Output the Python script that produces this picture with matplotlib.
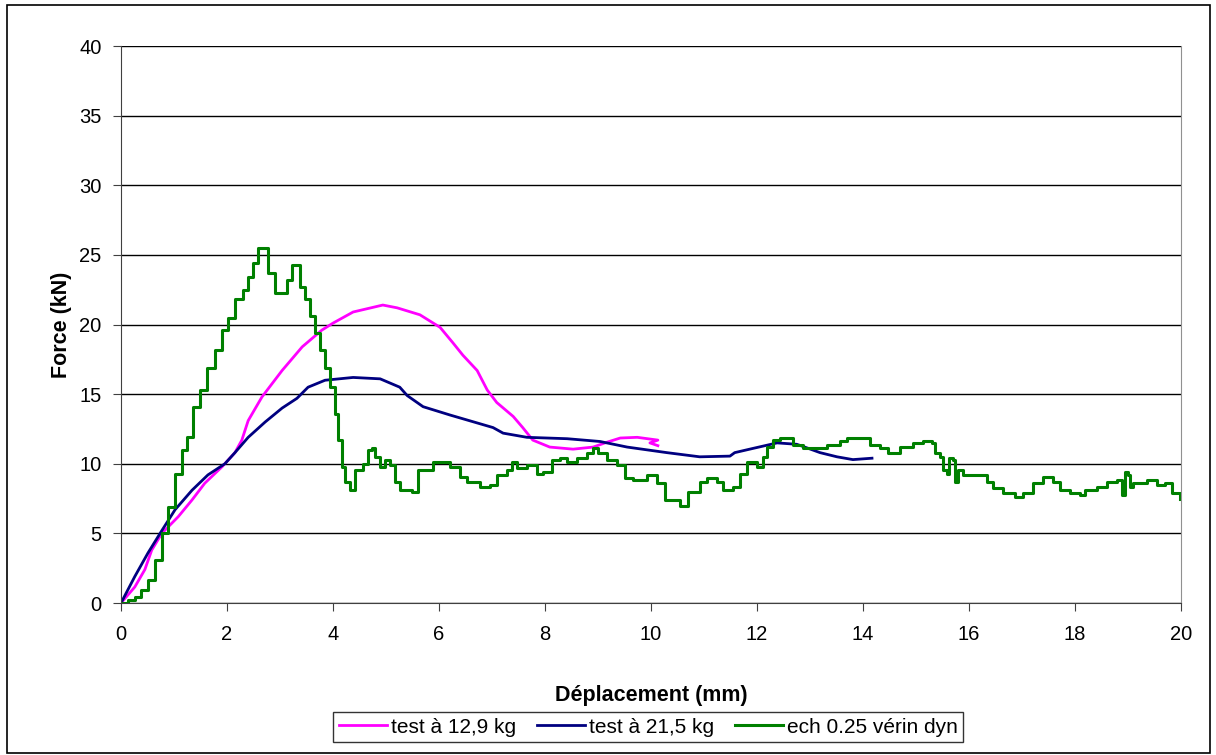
import matplotlib
matplotlib.use("Agg")
import matplotlib.pyplot as plt
from matplotlib.patches import Rectangle

plt.rcParams['font.family'] = ['Liberation Sans', 'DejaVu Sans']

# test à 12,9 kg
x_129 = [0, 0.26, 0.45, 0.58, 0.77, 1.08, 1.34, 1.58, 1.91, 2.15, 2.28, 2.40, 2.66,
         3.04, 3.42, 3.79, 4.0, 4.38, 4.94, 5.21, 5.64, 6.02, 6.26, 6.45, 6.72, 6.91,
         7.09, 7.40, 7.58, 7.77, 8.09, 8.53, 8.91, 9.17, 9.42, 9.74, 10.13, 9.98, 10.13]
f_129 = [0, 1.15, 2.4, 3.8, 5.0, 6.2, 7.4, 8.6, 9.8, 10.8, 11.7, 13.1, 14.8,
         16.7, 18.4, 19.6, 20.1, 20.9, 21.4, 21.2, 20.7, 19.8, 18.7, 17.8, 16.7, 15.3,
         14.4, 13.4, 12.6, 11.7, 11.2, 11.05, 11.2, 11.55, 11.85, 11.9, 11.7, 11.5, 11.3]

# test à 21,5 kg
x_215 = [0, 0.26, 0.51, 0.77, 1.02, 1.34, 1.64, 1.96, 2.15, 2.40, 2.72, 3.04, 3.32,
         3.53, 3.85, 4.38, 4.89, 5.26, 5.40, 5.70, 6.21, 7.02, 7.21, 7.66, 8.42, 9.04,
         9.55, 10.30, 10.92, 11.49, 11.58, 11.92, 12.38, 12.75, 12.9, 13.19, 13.51,
         13.81, 14.17]
f_215 = [0, 1.9, 3.6, 5.2, 6.7, 8.1, 9.2, 10.0, 10.8, 11.9, 13.0, 14.0, 14.7,
         15.5, 16.0, 16.2, 16.1, 15.5, 14.9, 14.1, 13.5, 12.6, 12.2, 11.9, 11.8, 11.6,
         11.2, 10.8, 10.5, 10.55, 10.8, 11.1, 11.5, 11.4, 11.2, 10.8, 10.5,
         10.3, 10.4]

# ech 0.25 vérin dyn
x_dyn = [0, 0.13, 0.26, 0.38, 0.51, 0.64, 0.77, 0.89, 1.02, 1.15, 1.25, 1.36, 1.49,
         1.62, 1.77, 1.91, 2.02, 2.15, 2.30, 2.40, 2.49, 2.58, 2.68, 2.77, 2.91, 3.04,
         3.13, 3.23, 3.32, 3.38, 3.47, 3.57, 3.66, 3.75, 3.85, 3.94, 4.04, 4.10, 4.17,
         4.23, 4.32, 4.42, 4.57, 4.66, 4.73, 4.79, 4.89, 4.98, 5.08, 5.17, 5.26, 5.49,
         5.60, 5.77, 5.89, 6.02, 6.21, 6.40, 6.53, 6.64, 6.77, 6.96, 7.09, 7.28, 7.38,
         7.47, 7.66, 7.85, 7.96, 8.13, 8.28, 8.42, 8.60, 8.79, 8.91, 9.0, 9.17, 9.36,
         9.51, 9.66, 9.92, 10.11, 10.26, 10.55, 10.70, 10.92, 11.05, 11.25, 11.36,
         11.55, 11.68, 11.81, 12.0, 12.11, 12.19, 12.30, 12.43, 12.68, 12.87, 13.06,
         13.32, 13.57, 13.70, 14.0, 14.13, 14.32, 14.47, 14.70, 14.94, 15.13, 15.30,
         15.36, 15.45, 15.51, 15.58, 15.62, 15.70, 15.74, 15.79, 15.89, 16.15, 16.34,
         16.45, 16.64, 16.87, 17.02, 17.21, 17.40, 17.58, 17.72, 17.91, 18.09, 18.19,
         18.42, 18.60, 18.79, 18.89, 18.94, 19.0, 19.04, 19.09, 19.36, 19.55, 19.70,
         19.83, 19.98]
f_dyn = [0, 0.2, 0.43, 0.9, 1.65, 3.1, 5.0, 6.9, 9.3, 11.0, 11.9, 14.1, 15.3,
         16.9, 18.2, 19.6, 20.5, 21.8, 22.5, 23.4, 24.4, 25.5, 25.5, 23.7, 22.3, 22.3,
         23.2, 24.3, 24.3, 22.7, 21.8, 20.6, 19.4, 18.2, 16.9, 15.5, 13.6, 11.7, 9.8,
         8.7, 8.1, 9.55, 10.0, 11.0, 11.1, 10.5, 9.8, 10.3, 9.9, 8.7, 8.1, 8.0,
         9.55, 9.55, 10.1, 10.1, 9.8, 9.05, 8.7, 8.7, 8.35, 8.5, 9.2, 9.55, 10.1,
         9.7, 9.9, 9.3, 9.4, 10.3, 10.4, 10.1, 10.4, 10.8, 11.1, 10.8, 10.3, 9.9,
         9.0, 8.8, 9.2, 8.6, 7.4, 7.0, 8.0, 8.7, 9.0, 8.7, 8.1,
         8.35, 9.3, 10.1, 9.8, 10.5, 11.2, 11.7, 11.85, 11.35, 11.1, 11.1,
         11.35, 11.6, 11.85, 11.85, 11.35, 11.1, 10.8, 11.2, 11.5, 11.6, 11.5,
         10.8, 10.5, 9.55, 9.3, 10.4, 10.3, 8.7, 9.55, 9.2, 9.2, 8.7,
         8.25, 7.9, 7.6, 7.9, 8.6, 9.05, 8.7, 8.1, 7.9, 7.75, 8.1,
         8.35, 8.7, 8.8, 7.75, 9.4, 9.2, 8.35, 8.6, 8.8, 8.5, 8.6,
         7.9, 7.5]

x_ticks = [0, 2, 4, 6, 8, 10, 12, 14, 16, 18, 20]
y_ticks = [0, 5, 10, 15, 20, 25, 30, 35, 40]

fig = plt.figure(figsize=(12.16, 7.55), dpi=100)
ax = fig.add_axes([0.0995, 0.2013, 0.8717, 0.7377])

ax.plot(x_129, f_129, color='#ff00ff', lw=2, label='test à 12,9 kg')
ax.plot(x_215, f_215, color='#000080', lw=2, label='test à 21,5 kg')
ax.plot(x_dyn, f_dyn, color='#008000', lw=2.2, drawstyle='steps-post', label='ech 0.25 vérin dyn')

ax.set_xlim(0, 20)
ax.set_ylim(0, 40)
ax.set_xticks(x_ticks)
ax.set_yticks(y_ticks)
ax.yaxis.grid(True, color='black', lw=1)
ax.set_axisbelow(True)
ax.tick_params(labelsize=14.5, length=6, color='#404040')
ax.tick_params(axis='x', pad=10)
ax.tick_params(axis='y', pad=8)

for s in ['left', 'bottom']:
    ax.spines[s].set_color('#404040')
ax.spines['right'].set_color('#909090')
ax.spines['top'].set_visible(False)

ax.set_xlabel('Déplacement (mm)', fontsize=15.5, fontweight='bold', labelpad=29)
ax.set_ylabel('Force (kN)', fontsize=15.5, fontweight='bold', labelpad=5)

fig.legend(loc='center', bbox_to_anchor=(0.533, 0.037), ncol=3, fontsize=15,
           frameon=True, fancybox=False, edgecolor='black', handlelength=2.3,
           handletextpad=0.2, columnspacing=1.0, borderpad=0.25)

fig.patches.append(Rectangle((7 / 1216, 2 / 755), 1203 / 1216, 748 / 755,
                             transform=fig.transFigure, fill=False,
                             edgecolor='black', lw=1.2))

fig.savefig('out.png', dpi=100)
